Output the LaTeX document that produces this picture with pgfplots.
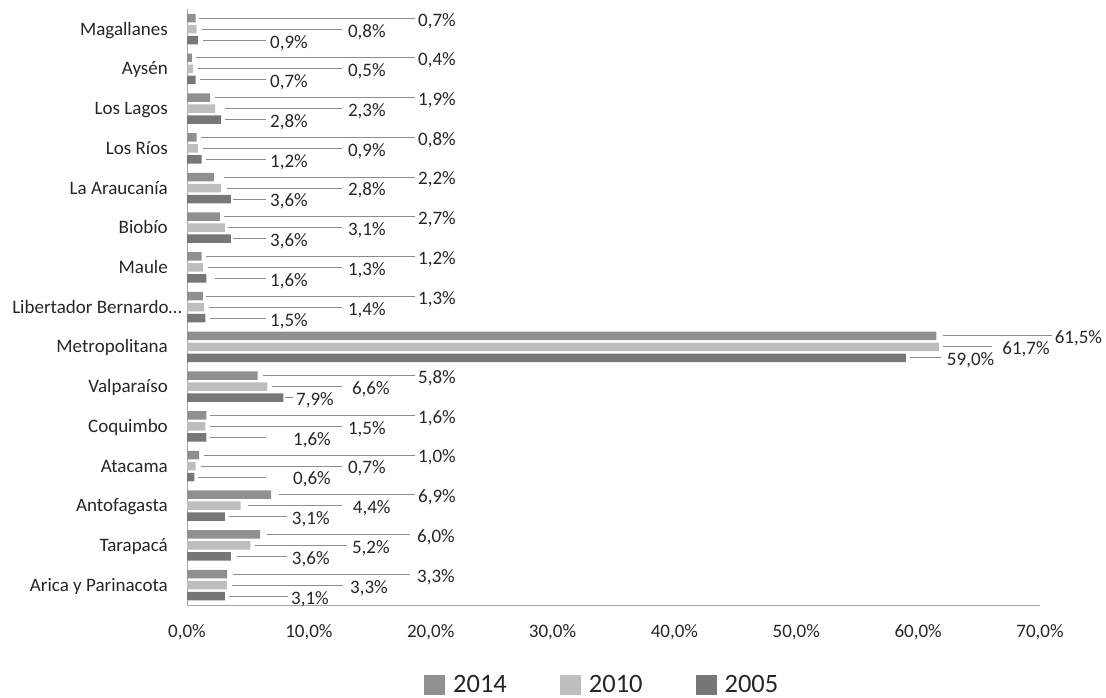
\documentclass[border=0pt]{standalone}
\usepackage{pgfplots}
\pgfplotsset{compat=1.18}
\usepackage{pgfplotstable}
\usepackage{fontspec}
\setmainfont{Carlito}
\definecolor{c14}{HTML}{909090}
\definecolor{c10}{HTML}{BEBEBE}
\definecolor{c05}{HTML}{777777}
\definecolor{txt}{HTML}{262626}
\newcommand\lblfont{\fontsize{19}{22}\selectfont}

% y: category index (0 = Arica y Parinacota ... 14 = Magallanes)
% v: value (%), s: leader start, e: leader end, lx: label x
\pgfplotstableread{
y v s e lx
14 0.7 0.98 18.70 18.95
13 0.4 0.75 18.70 18.95
12 1.9 2.30 18.70 18.95
11 0.8 1.15 18.70 18.95
10 2.2 3.04 18.70 18.95
9 2.7 3.04 18.70 18.95
8 1.2 1.56 18.70 18.95
7 1.3 1.56 18.70 18.95
6 61.5 62.02 70.96 71.20
5 5.8 6.23 18.70 18.95
4 1.6 1.85 18.70 18.95
3 1.0 1.40 18.70 18.95
2 6.9 7.55 18.70 18.95
1 6.0 6.56 18.30 18.87
0 3.3 3.77 18.30 18.87
}\tA
\pgfplotstableread{
y v s e lx
14 0.8 1.20 12.72 13.20
13 0.5 0.90 12.72 13.20
12 2.3 3.10 12.72 13.20
11 0.9 1.30 12.72 13.20
10 2.8 3.30 12.72 13.20
9 3.1 3.40 12.72 13.20
8 1.3 1.70 12.72 13.20
7 1.4 1.80 12.72 13.20
6 61.7 62.02 66.10 66.90
5 6.6 7.00 12.72 13.53
4 1.5 1.90 12.72 13.20
3 0.7 1.12 12.72 13.20
2 4.4 4.97 12.72 13.60
1 5.2 5.58 13.10 13.53
0 3.3 3.70 12.80 13.37
}\tB
\pgfplotstableread{
y v s e lx
14 0.9 1.30 6.48 6.81
13 0.7 1.10 6.48 6.81
12 2.8 3.15 6.48 6.81
11 1.2 1.60 6.48 6.81
10 3.6 3.80 6.48 6.81
9 3.6 3.80 6.48 6.81
8 1.6 2.30 6.48 6.81
7 1.5 1.90 6.48 6.81
6 59.0 59.30 61.85 62.35
5 7.9 8.05 8.70 8.94
4 1.6 1.85 6.48 8.70
3 0.6 0.90 6.48 8.70
2 3.1 3.45 8.20 8.60
1 3.6 4.10 8.20 8.60
0 3.1 3.45 8.29 8.53
}\tC

\pgfplotsset{
  leader/.style={forget plot, draw=none, mark=none,
    error bars/.cd, x dir=plus, x explicit, error mark=none,
    error bar style={draw=black!45, line width=0.8pt}},
  lbl/.style={forget plot, draw=none, mark=none, point meta=\thisrow{v},
    nodes near coords={\pgfmathprintnumber[fixed,fixed zerofill,precision=1,use comma]{\pgfplotspointmeta}\%},
    nodes near coords style={anchor=base west, inner sep=0pt, font=\lblfont, text=txt}},
}

\begin{document}
\begin{tikzpicture}
\begin{axis}[
  at={(187pt,92pt)}, anchor=south west,
  scale only axis, width=853pt, height=595.7pt,
  xmin=0, xmax=70, ymin=-0.5, ymax=14.5,
  clip=false,
  axis x line*=bottom, axis y line*=left,
  axis line style={draw=black!35, line width=1pt},
  major tick length=0pt,
  xtick={0,10,...,70},
  xticklabels={{0,0\%},{10,0\%},{20,0\%},{30,0\%},{40,0\%},{50,0\%},{60,0\%},{70,0\%}},
  ytick={0,...,14},
  yticklabels={Arica y Parinacota,Tarapacá,Antofagasta,Atacama,Coquimbo,Valparaíso,Metropolitana,Libertador Bernardo…\kern-14pt,Maule,Biobío,La Araucanía,Los Ríos,Los Lagos,Aysén,Magallanes},
  xticklabel style={anchor=base, yshift=-32pt, inner sep=0pt, font=\lblfont, text=txt},
  yticklabel style={anchor=base east, xshift=-19pt, yshift=-6pt, inner sep=0pt, font=\lblfont, text=txt},
  /pgf/number format/assume math mode=true,
  legend cell align=left,
  legend columns=3,
  legend image code/.code={\fill[#1] (0pt,-10pt) rectangle (21pt,10pt);},
  legend style={at={(0.2778,-0.1335)}, anchor=west, draw=none, fill=none, inner sep=0pt,
    nodes={inner sep=0pt, font=\fontsize{26.5}{30}\selectfont, text=txt},
    column sep=0pt,
    /tikz/every odd column/.style={column sep=8pt},
    /tikz/every even column/.style={column sep=53pt}},
]
\addplot[xbar, bar width=8.5pt, bar shift=11pt, fill=c14, draw=none] table[x=v, y=y] {\tA};
\addlegendentry{2014}
\addplot[xbar, bar width=8.5pt, bar shift=0pt, fill=c10, draw=none] table[x=v, y=y] {\tB};
\addlegendentry{2010}
\addplot[xbar, bar width=8.5pt, bar shift=-11pt, fill=c05, draw=none] table[x=v, y=y] {\tC};
\addlegendentry{2005}

\addplot[leader] table[x=s, y expr=\thisrow{y}+0.277, x error expr=\thisrow{e}-\thisrow{s}] {\tA};
\addplot[leader] table[x=s, y expr=\thisrow{y}, x error expr=\thisrow{e}-\thisrow{s}] {\tB};
\addplot[leader] table[x=s, y expr=\thisrow{y}-0.277, x error expr=\thisrow{e}-\thisrow{s}] {\tC};

\addplot[lbl] table[x=lx, y expr=\thisrow{y}+0.077] {\tA};
\addplot[lbl] table[x=lx, y expr=\thisrow{y}-0.2] {\tB};
\addplot[lbl] table[x=lx, y expr=\thisrow{y}-0.477] {\tC};
\end{axis}
\pgfresetboundingbox
\path[use as bounding box] (0,0) rectangle (1106pt,697pt);
\end{tikzpicture}
\end{document}
